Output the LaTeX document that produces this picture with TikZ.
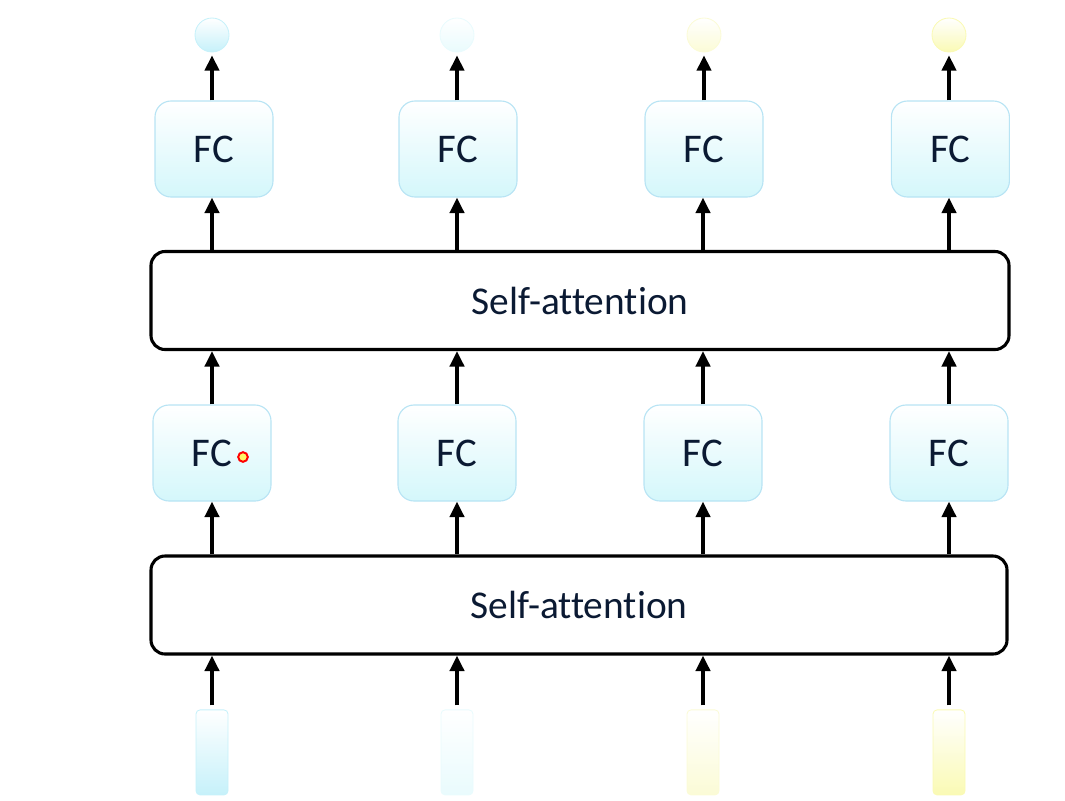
\documentclass[tikz,border=0pt]{standalone}
\usepackage{fontspec}
\setmainfont[Ligatures={NoCommon}]{Carlito}
\usepackage{xcolor}
\usetikzlibrary{arrows.meta}
\usetikzlibrary{positioning, calc}
\definecolor{txtnavy}{HTML}{0B1A33}
\definecolor{fcedge}{HTML}{B8E4F4}
\definecolor{fcfill}{HTML}{D4F7FB}
\definecolor{bluetok}{HTML}{C6F1FA}
\definecolor{paletok}{HTML}{E9FBFD}
\definecolor{ylwpale}{HTML}{FBFBD6}
\definecolor{ylwtok}{HTML}{FAFAB4}

\begin{document}
\begin{tikzpicture}[
        fcbox/.style={draw=fcedge, line width=0.8pt, rounded corners=0.4cm, minimum width=2.95cm, minimum height=2.4cm, top color=white, bottom color=fcfill, text=txtnavy, font=\fontsize{29}{32}\selectfont},
        attn/.style={draw, line width=2.2pt, rounded corners=0.35cm, minimum height=2.45cm, text=txtnavy, font=\fontsize{28}{32}\selectfont},
        outdot/.style={circle, draw=#1, line width=0.6pt, minimum size=0.85cm, inner sep=0pt, top color=white, bottom color=#1},
        token/.style={draw=#1, line width=0.6pt, rounded corners=0.1cm, minimum width=0.8cm, minimum height=2.125cm, inner sep=0pt, top color=white, bottom color=#1},
        up/.style={-{Triangle[length=11pt, width=10pt]}, line width=2.8pt}
        ]
        \useasboundingbox (0,0) rectangle (26.625,-20);

        % Inputs
        \node[token=bluetok] (in1) at (5.3,-18.81) {};
        \node[token=paletok] (in2) at (11.425,-18.81) {};
        \node[token=ylwpale] (in3) at (17.575,-18.81) {};
        \node[token=ylwtok] (in4) at (23.725,-18.81) {};

        % Lower block
        \node[attn, minimum width=21.4cm] (sa1) at (14.475,-15.125) {Self-attention};
        \node[fcbox] (fca1) at (5.3,-11.325) {FC};
        \node[fcbox] (fca2) at (11.425,-11.325) {FC};
        \node[fcbox] (fca3) at (17.575,-11.325) {FC};
        \node[fcbox] (fca4) at (23.725,-11.325) {FC};
        \node[circle, draw=red, fill=yellow!60, line width=1.4pt, minimum size=0.24cm, inner sep=0pt] (cursor) at (6.075,-11.425) {};

        % Upper block
        \node[attn, minimum width=21.45cm] (sa2) at (14.5,-7.5125) {Self-attention};
        \node[fcbox] (fcb1) at (5.35,-3.725) {FC};
        \node[fcbox] (fcb2) at (11.45,-3.725) {FC};
        \node[fcbox] (fcb3) at (17.6,-3.725) {FC};
        \node[fcbox] (fcb4) at (23.76,-3.725) {FC};

        % Outputs
        \node[outdot=bluetok] (out1) at (5.3,-0.875) {};
        \node[outdot=paletok] (out2) at (11.425,-0.875) {};
        \node[outdot=ylwpale] (out3) at (17.6,-0.875) {};
        \node[outdot=ylwtok] (out4) at (23.725,-0.875) {};

        % Arrows
        \draw[up, shorten <=3pt] (in1.north) -- (in1.north |- sa1.south);
        \draw[up, shorten <=3pt] (in2.north) -- (in2.north |- sa1.south);
        \draw[up, shorten <=3pt] (in3.north) -- (in3.north |- sa1.south);
        \draw[up, shorten <=3pt] (in4.north) -- (in4.north |- sa1.south);

        \draw[up] (fca1.south |- sa1.north) -- (fca1.south);
        \draw[up] (fca2.south |- sa1.north) -- (fca2.south);
        \draw[up] (fca3.south |- sa1.north) -- (fca3.south);
        \draw[up] (fca4.south |- sa1.north) -- (fca4.south);

        \draw[up] (fca1.north) -- (fca1.north |- sa2.south);
        \draw[up] (fca2.north) -- (fca2.north |- sa2.south);
        \draw[up] (fca3.north) -- (fca3.north |- sa2.south);
        \draw[up] (fca4.north) -- (fca4.north |- sa2.south);

        \draw[up] (fca1.north |- sa2.north) -- (fca1.north |- fcb1.south);
        \draw[up] (fca2.north |- sa2.north) -- (fca2.north |- fcb2.south);
        \draw[up] (fca3.north |- sa2.north) -- (fca3.north |- fcb3.south);
        \draw[up] (fca4.north |- sa2.north) -- (fca4.north |- fcb4.south);

        \draw[up, shorten >=2pt] (out1 |- fcb1.north) -- (out1.south);
        \draw[up, shorten >=2pt] (out2 |- fcb2.north) -- (out2.south);
        \draw[up, shorten >=2pt] (out3 |- fcb3.north) -- (out3.south);
        \draw[up, shorten >=2pt] (out4 |- fcb4.north) -- (out4.south);

        \end{tikzpicture}
\end{document}
